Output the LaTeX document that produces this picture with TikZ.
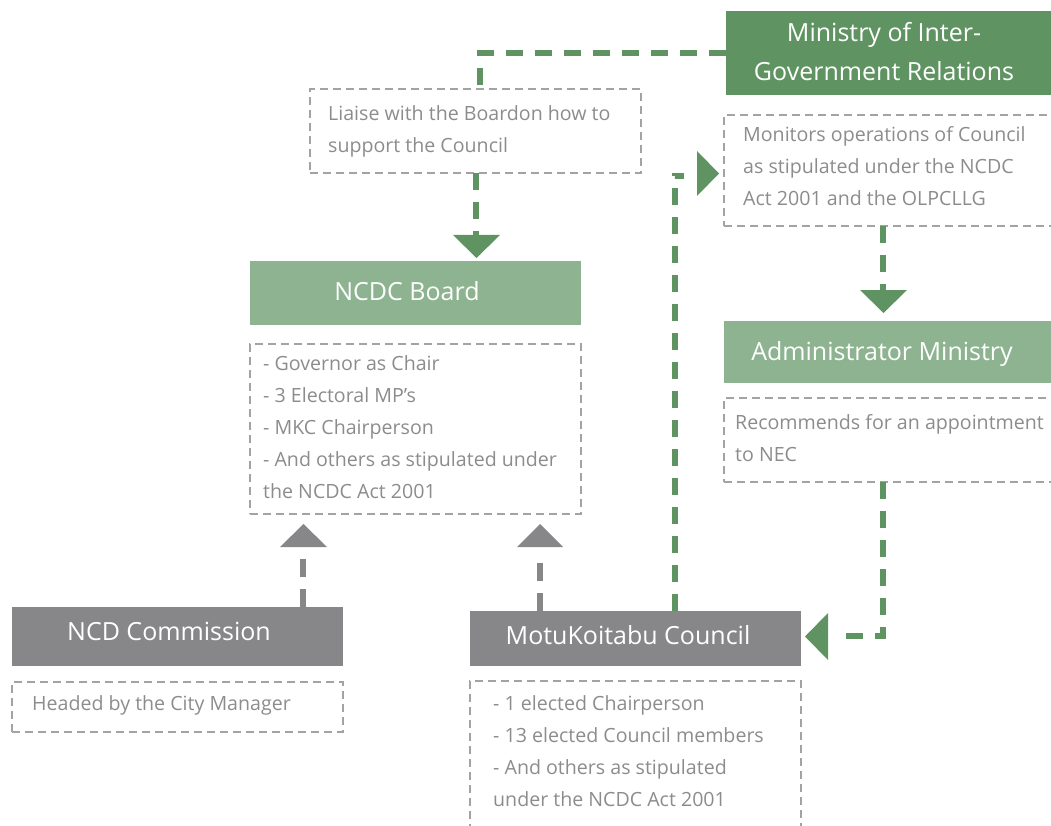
\documentclass[tikz,border=0pt]{standalone}
\usepackage{fontspec}
\setmainfont{Open Sans}
\definecolor{dgreen}{HTML}{5F9462}
\definecolor{lgreen}{HTML}{8DB390}
\definecolor{boxgray}{HTML}{87878A}
\definecolor{dashgray}{HTML}{A3A3A3}
\definecolor{txtgray}{HTML}{8C8C8E}
\tikzset{
  boxbase/.style={rectangle, anchor=north west, inner sep=0pt, outer sep=0pt},
  greenbox/.style={boxbase, fill=dgreen},
  lightbox/.style={boxbase, fill=lgreen},
  graybox/.style={boxbase, fill=boxgray},
  notebox/.style={boxbase, draw=dashgray, line width=2.6pt, dash pattern=on 8pt off 5pt},
  titletext/.style={inner sep=0pt, text=white, font=\fontsize{25}{39}\selectfont, align=center, anchor=base},
  bodytext/.style={inner sep=0pt, text=txtgray, font=\fontsize{19.6}{32}\selectfont, align=left, anchor=base west},
  gconn/.style={draw=dgreen, line width=6pt, dash pattern=on 17pt off 12pt},
  kconn/.style={draw=boxgray, line width=6pt, dash pattern=on 18pt off 12pt},
}
\begin{document}
\begin{tikzpicture}[x=1pt,y=-1pt]
\useasboundingbox (0,0) rectangle (1051,826);
\clip (0,0) rectangle (1051,826);
% boxes
\node[greenbox, minimum width=334pt, minimum height=84pt] (min) at (726,11) {};
\node[notebox, minimum width=331pt, minimum height=84pt] (liaise) at (310,89) {};
\node[lightbox, minimum width=331pt, minimum height=64pt] (board) at (250,261) {};
\node[notebox, minimum width=331pt, minimum height=170pt] (boardlist) at (250,344) {};
\node[notebox, minimum width=340pt, minimum height=111pt] (monitor) at (724,115) {};
\node[lightbox, minimum width=340pt, minimum height=62pt] (admin) at (724,321) {};
\node[notebox, minimum width=340pt, minimum height=84pt] (recom) at (724,398) {};
\node[graybox, minimum width=331pt, minimum height=59pt] (comm) at (12,607) {};
\node[notebox, minimum width=331pt, minimum height=50pt] (headed) at (12,682) {};
\node[graybox, minimum width=331pt, minimum height=55pt] (council) at (470,611) {};
\node[notebox, minimum width=331pt, minimum height=170pt] (councillist) at (470,681) {};
% texts (anchor = baseline of last line)
\node[titletext] (mint) at (884,81) {Ministry of Inter-\\Government Relations};
\node[titletext] (boardt) at (407,300) {NCDC Board};
\node[titletext] (admint) at (882,360) {Administrator Ministry};
\node[titletext] (commt) at (169,640) {NCD Commission};
\node[titletext] (councilt) at (628,644) {MotuKoitabu Council};
\node[bodytext] (liaiset) at (328,153) {Liaise with the Boardon how to\\support the Council};
\node[bodytext] (boardlistt) at (263,498) {- Governor as Chair\\- 3 Electoral MP’s\\- MKC Chairperson\\- And others as stipulated under\\the NCDC Act 2001};
\node[bodytext] (monitort) at (743,206) {Monitors operations of Council\\as stipulated under the NCDC\\Act 2001 and the OLPCLLG};
\node[bodytext] (recomt) at (735,461) {Recommends for an appointment\\to NEC};
\node[bodytext] (headedt) at (32,710) {Headed by the City Manager};
\node[bodytext] (councillistt) at (493,806) {- 1 elected Chairperson\\- 13 elected Council members\\- And others as stipulated\\under the NCDC Act 2001};
% connectors
\coordinate (c1) at (480,53);
\draw[gconn] (min.west |- c1) -- (c1) -- (c1 |- liaise.north);
\coordinate (a1) at (476,235);
\draw[gconn] (liaise.south -| a1) -- (a1);
\fill[dgreen] (453,235) -- (500,235) -- (476.5,258) -- cycle;
\coordinate (a2) at (883,290);
\draw[gconn] (monitor.south -| a2) -- (a2);
\fill[dgreen] (860,290) -- (907,290) -- (883.5,313) -- cycle;
\coordinate (c3) at (883,636);
\coordinate (a3) at (842,636);
\draw[gconn] (recom.south -| c3) -- (c3) -- (a3);
\fill[dgreen] (828,613) -- (828,660) -- (805,636.5) -- cycle;
\coordinate (c4) at (675,176);
\coordinate (a4) at (684,176);
\draw[gconn] (council.north -| c4) -- (c4) -- (a4);
\fill[dgreen] (697,151) -- (697,196) -- (719,173.5) -- cycle;
\coordinate (a5) at (303,558);
\draw[kconn] (comm.north -| a5) -- (a5);
\fill[boxgray] (280,547) -- (327,547) -- (303.5,524) -- cycle;
\coordinate (a6) at (540,558);
\draw[kconn] (council.north -| a6) -- (a6);
\fill[boxgray] (517,547) -- (563,547) -- (540,524) -- cycle;
\end{tikzpicture}
\end{document}
